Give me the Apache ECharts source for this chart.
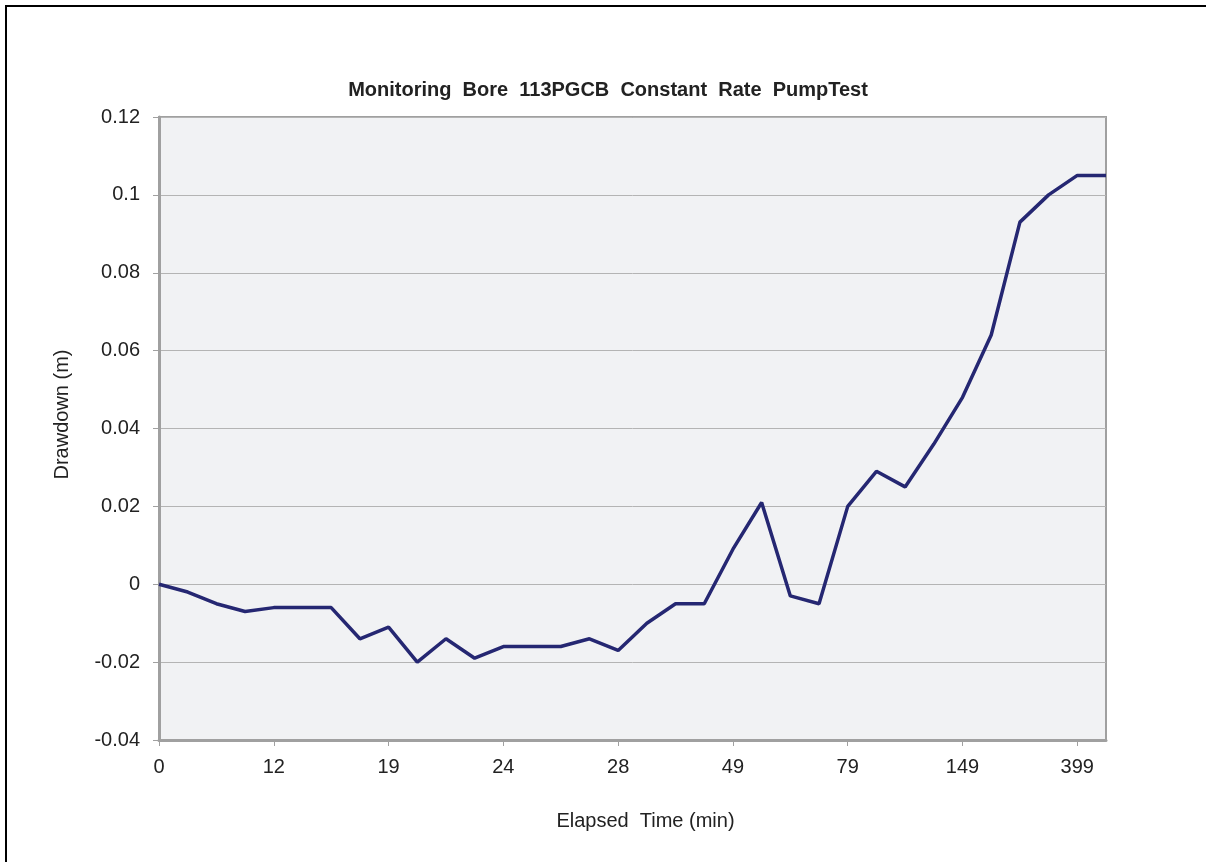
<!DOCTYPE html>
<html>
<head>
<meta charset="utf-8">
<script src="https://cdn.jsdelivr.net/npm/echarts@6/dist/echarts.min.js"></script>
<style>
html,body{margin:0;padding:0;background:#fff;}
#c{width:1206px;height:862px;}
</style>
</head>
<body>
<div id="c"></div>
<script>
// Elapsed time categories (only every 4th label is shown in the reference; hidden ones estimated)
const elapsedTime = ['0','3','6','9','12','14','16','18','19','20','21','22','24','25','26','27','28','33','38','43','49','57','64','71','79','94','109','124','149','199','249','299','399','449'];
const drawdown = [0,-0.002,-0.005,-0.007,-0.006,-0.006,-0.006,-0.014,-0.011,-0.020,-0.014,-0.019,-0.016,-0.016,-0.016,-0.014,-0.017,-0.010,-0.005,-0.005,0.009,0.021,-0.003,-0.005,0.020,0.029,0.025,0.036,0.048,0.064,0.093,0.100,0.105,0.105];
const yTicks = {min:-0.04, max:0.12, interval:0.02};

const chart = echarts.init(document.getElementById('c'));
const font = 'Liberation Sans, Arial, sans-serif';
chart.setOption({
  animation:false,
  backgroundColor:'#fff',
  title:{
    text:'Monitoring  Bore  113PGCB  Constant  Rate  PumpTest',
    left:603, top:75, textAlign:'center',
    textStyle:{fontFamily:font, fontSize:20, fontWeight:'bold', color:'#222'}
  },
  graphic:[{
    type:'rect', silent:true, z:100,
    shape:{x:6,y:6,width:1220,height:880},
    style:{fill:'none', stroke:'#000', lineWidth:2}
  }],
  grid:{left:159, top:117, right:100, bottom:122, show:true, backgroundColor:'#f1f2f4', borderColor:'#a0a0a0', borderWidth:2},
  xAxis:{
    type:'category', data:elapsedTime, boundaryGap:false,
    name:'Elapsed  Time (min)', nameLocation:'middle', nameGap:71,
    nameTextStyle:{fontFamily:font, fontSize:20, color:'#222', padding:[0,0,0,26]},
    axisLine:{onZero:false, lineStyle:{color:'#a0a0a0', width:3}},
    axisTick:{show:true, interval:3, length:6, lineStyle:{color:'#a0a0a0', width:1}},
    axisLabel:{interval:3, margin:17, fontFamily:font, fontSize:20, color:'#222'},
    splitLine:{show:false}
  },
  yAxis:{
    type:'value', min:yTicks.min, max:yTicks.max, interval:yTicks.interval,
    name:'Drawdown (m)', nameLocation:'middle', nameGap:87,
    nameTextStyle:{fontFamily:font, fontSize:20, color:'#222', padding:[0,0,0,28]},
    axisLine:{show:true, lineStyle:{color:'#a0a0a0', width:3}},
    axisTick:{show:true, length:6, lineStyle:{color:'#a0a0a0', width:1}},
    axisLabel:{margin:19, fontFamily:font, fontSize:20, color:'#222',
      formatter:function(v){return String(Math.round(v*100)/100);}},
    splitLine:{show:true, lineStyle:{color:'#b4b4b4', width:1}}
  },
  series:[{
    type:'line', data:drawdown, showSymbol:false, symbol:'none',
    lineStyle:{color:'#252772', width:3.5}, itemStyle:{color:'#252772'}
  }]
});
</script>
</body>
</html>
